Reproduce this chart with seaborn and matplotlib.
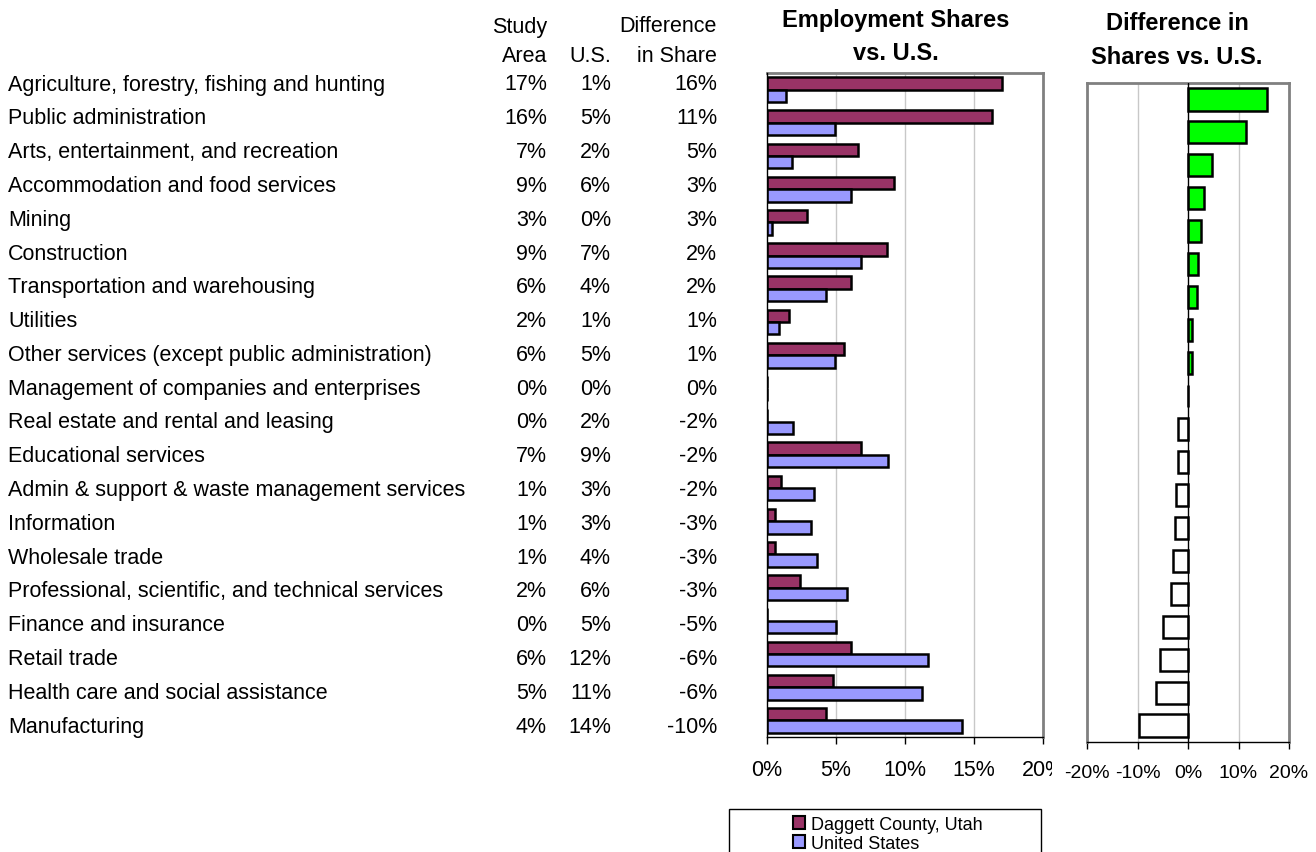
import numpy as np
import pandas as pd
import matplotlib
matplotlib.use("Agg")
import matplotlib.pyplot as plt
from matplotlib.patches import Rectangle, Patch
from matplotlib.transforms import Bbox, TransformedBbox
import seaborn as sns

# Industry employment shares (%), study area vs. nation
industries = [
    "Agriculture, forestry, fishing and hunting",
    "Public administration",
    "Arts, entertainment, and recreation",
    "Accommodation and food services",
    "Mining",
    "Construction",
    "Transportation and warehousing",
    "Utilities",
    "Other services (except public administration)",
    "Management of companies and enterprises",
    "Real estate and rental and leasing",
    "Educational services",
    "Admin & support & waste management services",
    "Information",
    "Wholesale trade",
    "Professional, scientific, and technical services",
    "Finance and insurance",
    "Retail trade",
    "Health care and social assistance",
    "Manufacturing",
]
study_area = [17.0, 16.3, 6.6, 9.2, 2.9, 8.7, 6.1, 1.6, 5.6, 0.0,
              0.0, 6.8, 1.0, 0.6, 0.6, 2.4, 0.0, 6.1, 4.8, 4.3]
united_states = [1.4, 4.9, 1.8, 6.1, 0.35, 6.8, 4.3, 0.9, 4.9, 0.0,
                 1.9, 8.8, 3.4, 3.2, 3.6, 5.8, 5.0, 11.7, 11.2, 14.1]
area_name = "Daggett County, Utah"
nation_name = "United States"
share_ticks = [0, 5, 10, 15, 20]
diff_ticks = [-20, -10, 0, 10, 20]

difference = [round(a - b, 1) for a, b in zip(study_area, united_states)]

MAROON = "#993366"
LAVENDER = "#9999FF"
GREEN = "#00FF00"
FRAME = "#808080"
GRID = "#C8C8C8"

W, H = 1316, 853
sns.set_theme(style="white")
plt.rcParams["font.family"] = ["Liberation Sans", "DejaVu Sans"]
plt.rcParams["text.color"] = "black"
plt.rcParams["xtick.color"] = "black"
plt.rcParams["xtick.labelcolor"] = "black"

fig = plt.figure(figsize=(W / 100, H / 100), dpi=100)


def fx(px):
    return px / W


def fy(py):
    return 1 - py / H


def pct(v):
    return f"{int(np.floor(v + 0.5))}%"


FS = 15.5
TFS = 17

# ---- table of shares on the left ----
for i, name in enumerate(industries):
    y = fy(85 + i * 33.8)
    fig.text(fx(8), y, name, ha="left", va="center", fontsize=FS)
    fig.text(fx(547), y, pct(study_area[i]), ha="right", va="center", fontsize=FS)
    fig.text(fx(611), y, pct(united_states[i]), ha="right", va="center", fontsize=FS)
    fig.text(fx(717), y, pct(difference[i]), ha="right", va="center", fontsize=FS)

fig.text(fx(547), fy(27), "Study", ha="right", va="center", fontsize=FS)
fig.text(fx(547), fy(56), "Area", ha="right", va="center", fontsize=FS)
fig.text(fx(611), fy(56), "U.S.", ha="right", va="center", fontsize=FS)
fig.text(fx(717), fy(27), "Difference", ha="right", va="center", fontsize=FS)
fig.text(fx(717), fy(56), "in Share", ha="right", va="center", fontsize=FS)

fig.text(fx(896), fy(20), "Employment Shares", ha="center", va="center",
         fontsize=TFS, fontweight="bold")
fig.text(fx(896), fy(54), "vs. U.S.", ha="center", va="center",
         fontsize=TFS, fontweight="bold")
fig.text(fx(1177), fy(23), "Difference in", ha="center", va="center",
         fontsize=TFS, fontweight="bold")
fig.text(fx(1177), fy(58), "Shares vs. U.S.", ha="center", va="center",
         fontsize=TFS, fontweight="bold")

# ---- grouped bars: shares ----
ax1 = fig.add_axes([fx(767), fy(738), fx(1043) - fx(767), fy(74) - fy(738)])
shares = pd.DataFrame({
    "industry": industries * 2,
    "share": study_area + united_states,
    "region": [area_name] * len(industries) + [nation_name] * len(industries),
})
sns.barplot(data=shares, y="industry", x="share", hue="region", orient="h",
            palette=[MAROON, LAVENDER], saturation=1, width=0.75,
            edgecolor="black", linewidth=1.8, ax=ax1, legend=False, zorder=3)
ax1.set_xlim(0, 20)
ax1.set_ylim(len(industries) - 0.5, -0.5)
ax1.set_xticks(share_ticks)
ax1.set_xticklabels([f"{t}%" for t in share_ticks], fontsize=FS)
ax1.set_yticks([])
ax1.set_xlabel("")
ax1.set_ylabel("")
for t in share_ticks[1:-1]:
    ax1.axvline(t, color=GRID, lw=1, zorder=1)
ax1.tick_params(axis="x", direction="out", length=5, width=1, color="black",
                pad=11, bottom=True)
for s in ("top", "right"):
    ax1.spines[s].set_color(FRAME)
    ax1.spines[s].set_linewidth(2)
for s in ("left", "bottom"):
    ax1.spines[s].set_color("black")
    ax1.spines[s].set_linewidth(1)
    ax1.spines[s].set_zorder(4)
# the chart object ends just right of the axis, cutting the last tick label
chart_box = TransformedBbox(Bbox([[fx(700), 0], [fx(1052), 1]]), fig.transFigure)
last_label = ax1.get_xticklabels()[-1]
last_label.set_clip_box(chart_box)
last_label.set_clip_on(True)

# ---- difference bars ----
ax2 = fig.add_axes([fx(1087), fy(743), fx(1289) - fx(1087), fy(84) - fy(743)])
diffs = pd.DataFrame({
    "industry": industries,
    "difference": difference,
    "sign": ["above" if d >= 0 else "below" for d in difference],
})
sns.barplot(data=diffs, y="industry", x="difference", hue="sign", orient="h",
            palette={"above": GREEN, "below": "white"}, saturation=1,
            dodge=False, width=0.67, edgecolor="black", linewidth=1.8,
            ax=ax2, legend=False, zorder=3)
ax2.set_xlim(-20, 20)
ax2.set_ylim(len(industries) - 0.5, -0.5)
ax2.set_xticks(diff_ticks)
ax2.set_xticklabels([f"{t}%" for t in diff_ticks], fontsize=14)
ax2.set_yticks([])
ax2.set_xlabel("")
ax2.set_ylabel("")
for t in (-10, 10):
    ax2.axvline(t, color=GRID, lw=1, zorder=1)
ax2.axvline(0, color="black", lw=1, zorder=4)
ax2.tick_params(axis="x", direction="out", length=5, width=1, color="black",
                pad=11, bottom=True)
for s in ("top", "right", "left"):
    ax2.spines[s].set_color(FRAME)
    ax2.spines[s].set_linewidth(2)
ax2.spines["bottom"].set_color("black")
ax2.spines["bottom"].set_linewidth(1)

# ---- legend box ----
fig.patches.append(Rectangle((fx(729), fy(870)), fx(1041) - fx(729),
                             fy(810) - fy(870), transform=fig.transFigure,
                             facecolor="white", edgecolor="black", lw=1))
handles = [Patch(facecolor=MAROON, edgecolor="black", lw=1.5),
           Patch(facecolor=LAVENDER, edgecolor="black", lw=1.5)]
fig.legend(handles, [area_name, nation_name], loc="upper left",
           bbox_to_anchor=(fx(780), fy(804)), frameon=False, fontsize=13,
           handlelength=0.7, handleheight=0.7, handletextpad=0.3,
           labelspacing=0.12, borderpad=0.2)

fig.savefig("out.png", dpi=100)
